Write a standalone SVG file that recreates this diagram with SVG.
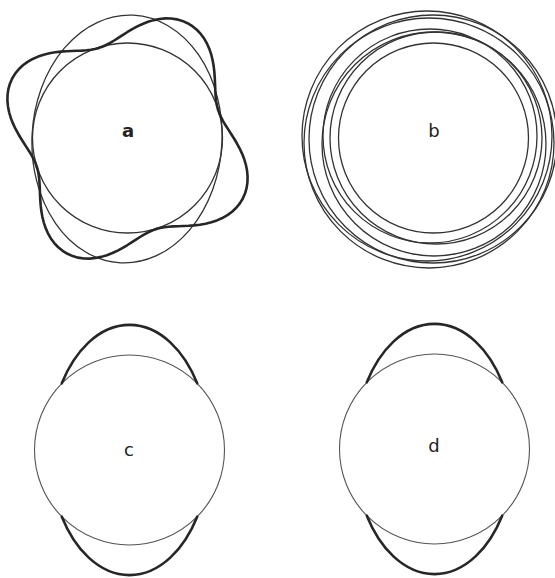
<svg xmlns="http://www.w3.org/2000/svg" width="555" height="578" viewBox="0 0 555 578">
<style>
.thin{fill:none;stroke:#333;stroke-width:1.3}
.circ{fill:none;stroke:#555;stroke-width:1.1}
.thick{fill:none;stroke:#262626;stroke-width:2.6;stroke-linejoin:round;stroke-linecap:round}
.lbl{font-family:"DejaVu Sans",sans-serif;font-size:18px;fill:#222;text-anchor:middle}
</style>
<defs>
<path id="lobe" class="thick" d="M67.18,-67.18 L70.24,-64.36 L73.59,-61.75 L77.22,-59.26 L81.17,-56.84 L85.39,-54.40 L89.85,-51.88 L94.48,-49.18 L99.20,-46.26 L103.94,-43.05 L108.57,-39.52 L113.01,-35.63 L117.12,-31.38 L120.82,-26.78 L124.00,-21.86 L126.57,-16.66 L128.45,-11.24 L129.61,-5.66 L130,0 L129.61,5.66 L128.45,11.24 L126.57,16.66 L124.00,21.86 L120.82,26.78 L117.12,31.38 L113.01,35.63 L108.57,39.52 L103.94,43.05 L99.20,46.26 L94.48,49.18 L89.85,51.88 L85.39,54.40 L81.17,56.84 L77.22,59.26 L73.59,61.75 L70.24,64.36 L67.18,67.18"/>
</defs>
<rect width="555" height="578" fill="#fff"/>
<g id="panel-a">
<circle class="thin" cx="127.5" cy="138" r="95"/>
<ellipse class="thin" cx="127" cy="139" rx="95" ry="124" transform="rotate(3 127 139)"/>
<use href="#lobe" transform="translate(127.5 138.5) rotate(27.5)"/>
<use href="#lobe" transform="translate(127.5 138.5) rotate(117.5)"/>
<use href="#lobe" transform="translate(127.5 138.5) rotate(207.5)"/>
<use href="#lobe" transform="translate(127.5 138.5) rotate(297.5)"/>
<text class="lbl" x="128" y="137" font-weight="bold">a</text>
</g>
<g id="panel-b">
<circle class="thin" cx="433.5" cy="138" r="95"/>
<circle class="thin" cx="430" cy="136" r="107"/>
<circle class="thin" cx="436" cy="138" r="106"/>
<circle class="thin" cx="434" cy="144" r="112"/>
<circle class="thin" cx="427" cy="136" r="125"/>
<circle class="thin" cx="433" cy="139" r="124"/>
<circle class="thin" cx="429" cy="143" r="125"/>
<text class="lbl" x="434" y="137">b</text>
</g>
<g id="panel-c">
<circle class="circ" cx="129.5" cy="450" r="95"/>
<path class="thick" d="M61.8,383.3 A80,125 0 0 1 197.2,383.3"/>
<path class="thick" d="M61.8,516.7 A80,125 0 0 0 197.2,516.7"/>
<text class="lbl" x="129" y="456">c</text>
</g>
<g id="panel-d">
<circle class="circ" cx="434.5" cy="449" r="95"/>
<path class="thick" d="M366.8,382.3 A80,125 0 0 1 502.2,382.3"/>
<path class="thick" d="M366.8,515.7 A80,125 0 0 0 502.2,515.7"/>
<text class="lbl" x="434" y="452">d</text>
</g>
</svg>
